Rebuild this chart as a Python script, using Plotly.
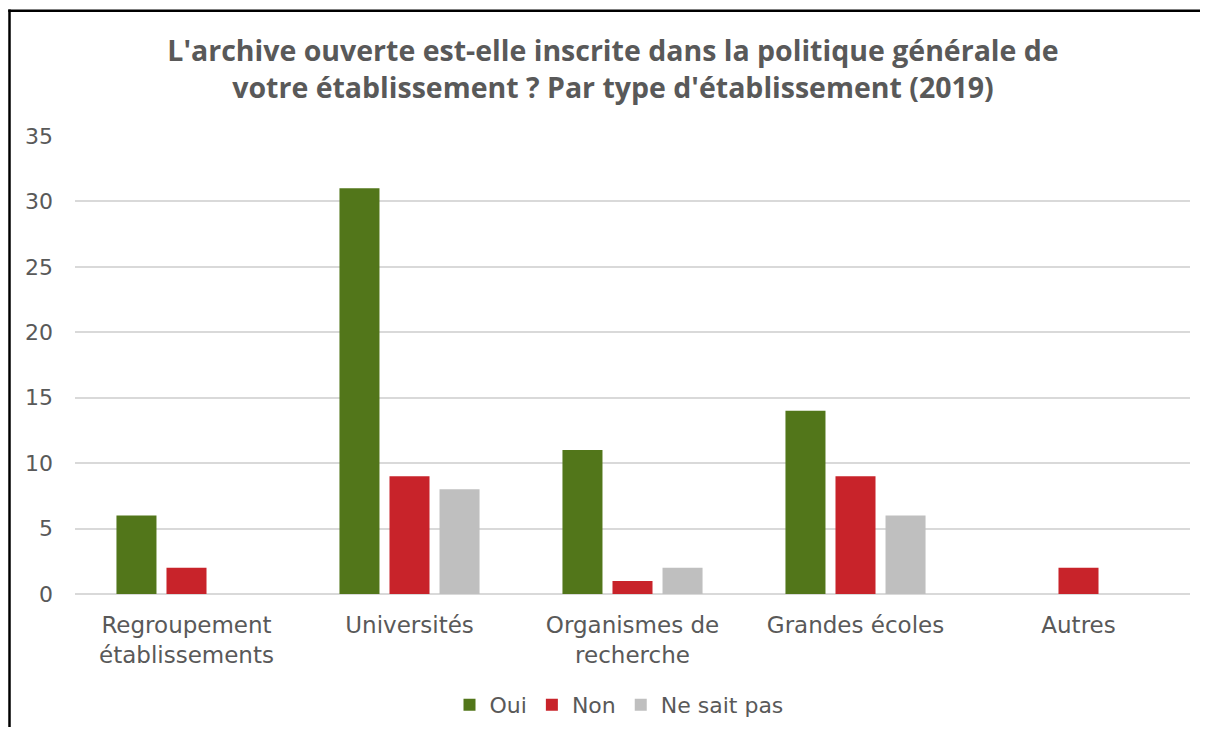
import plotly.graph_objects as go

categories = ["Regroupement<br>établissements", "Universités", "Organismes de<br>recherche", "Grandes écoles", "Autres"]
oui = [6, 31, 11, 14, 0]
non = [2, 9, 1, 9, 2]
nsp = [0, 8, 2, 6, 0]
series_names = ["Oui", "Non", "Ne sait pas"]
colors = ["#52761A", "#C8232A", "#BFBFBF"]

FONT = "'DejaVu Sans', sans-serif"
TFONT = "'Open Sans', sans-serif"
TXT = "#595959"

fig = go.Figure()
for name, vals, col in zip(series_names, [oui, non, nsp], colors):
    fig.add_trace(go.Bar(x=categories, y=vals, name=name, marker=dict(color=col, line=dict(width=0))))

# page body has an 8px margin; screen coordinates are converted below
OFF = 8
W, H = 1200, 719
SL, SR, ST, SB = 75, 1190, 136, 594  # plot area in screen px
L = SL - OFF
R = W - (SR - OFF)
T = ST - OFF
B = H - (SB - OFF)
pw = SR - SL
ph = SB - ST

def px2x(sx):
    return (sx - SL) / pw

def py2y(sy):
    return (SB - sy) / ph

right_edge = OFF + W      # screen x of figure right edge
bottom_edge = OFF + H     # screen y of figure bottom edge

fig.update_layout(
    width=W, height=H,
    margin=dict(l=L, r=R, t=T, b=B),
    paper_bgcolor="white", plot_bgcolor="white",
    barmode="group", bargap=0.327, bargroupgap=0.2,
    font=dict(family=FONT, color=TXT),
    title=dict(
        text="<b>L'archive ouverte est-elle inscrite dans la politique générale de<br>votre établissement ? Par type d'établissement (2019)</b>",
        x=(613 - OFF) / W, xanchor="center",
        y=1 - (61 - OFF) / H, yanchor="middle",
        font=dict(size=28.5, color=TXT, family=TFONT),
    ),
    xaxis=dict(showgrid=False, showline=False, ticks="", tickfont=dict(size=23, color=TXT),
               ticklabelstandoff=15, automargin=False),
    yaxis=dict(range=[0, 35], dtick=5, showgrid=True, gridcolor="#D9D9D9", gridwidth=1.8,
               zeroline=True, zerolinecolor="#D9D9D9", zerolinewidth=1.8, automargin=False,
               showline=False, ticks="", tickfont=dict(size=22, color=TXT), ticklabelstandoff=21),
    legend=dict(orientation="h", xref="container", yref="container",
                x=(619 - OFF) / W, xanchor="center", y=1 - (705 - OFF) / H, yanchor="middle",
                font=dict(size=22, color=TXT), itemwidth=30, traceorder="normal"),
    shapes=[
        dict(type="line", xref="paper", yref="paper",
             x0=px2x(8.25), x1=px2x(right_edge), y0=py2y(10.8), y1=py2y(10.8),
             line=dict(color="black", width=2.5), layer="above"),
        dict(type="line", xref="paper", yref="paper",
             x0=px2x(9.5), x1=px2x(9.5), y0=py2y(9.5), y1=py2y(bottom_edge),
             line=dict(color="black", width=2.5), layer="above"),
    ],
)

fig.write_html("out.html")
